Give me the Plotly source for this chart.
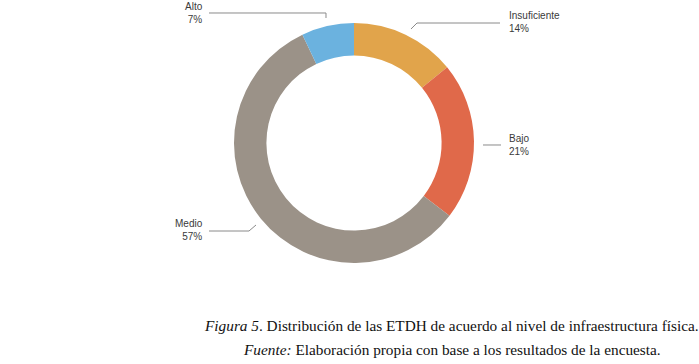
import plotly.graph_objects as go

W, H = 699, 364

categories = ["Insuficiente", "Bajo", "Medio", "Alto"]
values = [14, 21, 57, 7]
pct_labels = ["14%", "21%", "57%", "7%"]
colors = ["#E1A44B", "#E0694A", "#9B9288", "#6BB2DF"]

caption_line1 = "<i>Figura 5</i>. Distribución de las ETDH de acuerdo al nivel de infraestructura física."
caption_line2 = "<i>Fuente:</i> Elaboración propia con base a los resultados de la encuesta."


def px(x):
    return x / W


def py(y):
    return 1 - y / H


fig = go.Figure()
fig.add_trace(go.Pie(
    labels=categories,
    values=values,
    marker=dict(colors=colors, line=dict(width=0)),
    hole=0.73,
    sort=False,
    direction="clockwise",
    rotation=0,
    textinfo="none",
    hoverinfo="label+percent",
    showlegend=False,
    domain=dict(x=[px(233), px(475)], y=[py(263), py(23)]),
))

label_font = dict(family="Liberation Sans Narrow, Liberation Sans, Arial, sans-serif",
                  size=10, color="#3a3a3a")

label_specs = {
    "Alto": dict(x=205, y=13, xanchor="right", align="right"),
    "Insuficiente": dict(x=507, y=22, xanchor="left", align="left"),
    "Bajo": dict(x=507, y=145, xanchor="left", align="left"),
    "Medio": dict(x=205, y=230, xanchor="right", align="right"),
}
for cat, pct in zip(categories, pct_labels):
    s = label_specs[cat]
    fig.add_annotation(
        x=px(s["x"]), y=py(s["y"]), xref="paper", yref="paper",
        text=f"{cat}<br>{pct}", showarrow=False,
        xanchor=s["xanchor"], yanchor="middle", align=s["align"],
        font=label_font,
    )

leaders = [
    [(209, 13), (326, 13), (326, 18)],
    [(500, 23), (417, 23), (411, 29)],
    [(483, 145), (501, 145)],
    [(209, 231), (249, 231), (256, 225)],
]
for pts in leaders:
    path = "M " + " L ".join(f"{px(x):.5f},{py(y):.5f}" for x, y in pts)
    fig.add_shape(type="path", path=path, xref="paper", yref="paper",
                  line=dict(color="#8a8a8a", width=1))

cap_font = dict(family="Liberation Serif, Times New Roman, serif", size=15.3, color="#111111")
fig.add_annotation(x=px(451), y=py(325), xref="paper", yref="paper",
                   text=caption_line1, showarrow=False, xanchor="center",
                   yanchor="middle", font=cap_font)
fig.add_annotation(x=px(452), y=py(349), xref="paper", yref="paper",
                   text=caption_line2, showarrow=False, xanchor="center",
                   yanchor="middle", font=cap_font)

fig.update_layout(
    width=W, height=H,
    margin=dict(l=0, r=0, t=0, b=0),
    paper_bgcolor="white", plot_bgcolor="white",
)

fig.write_html("out.html", config={"displayModeBar": False},
               post_script="document.body.style.margin='0';")
